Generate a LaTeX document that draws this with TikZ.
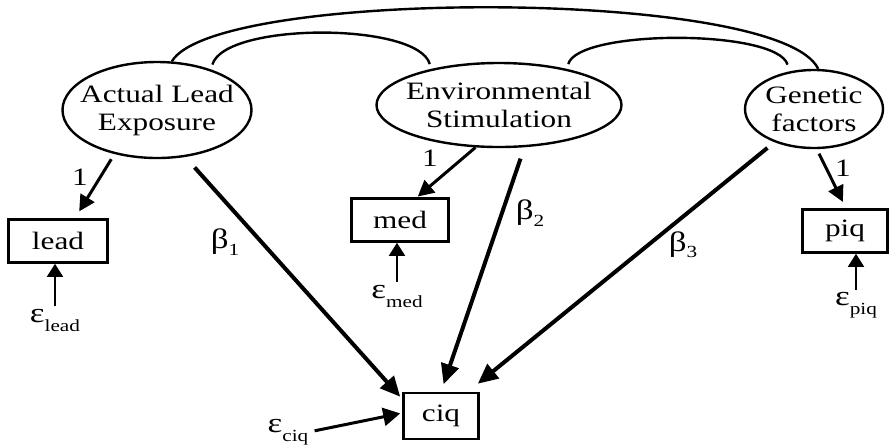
\documentclass[tikz,border=0pt]{standalone}
\usepackage{fontspec}
\setmainfont[FakeStretch=1.25]{Liberation Serif}
\usetikzlibrary{arrows.meta,shapes.geometric,calc}
\newcommand{\errsym}[1]{ε\raisebox{-0.7ex}{\fontsize{8.5}{9}\selectfont #1}}
\newcommand{\coefsym}[1]{β\raisebox{-0.5ex}{\fontsize{8.5}{9}\selectfont #1}}

\begin{document}
\begin{tikzpicture}[
  x=0.5pt, y=-0.5pt,
  font=\fontsize{12.5}{14}\selectfont,
  latent/.style={draw, ellipse, line width=1.2pt, inner sep=0pt},
  obs/.style={draw, rectangle, line width=1.3pt, inner sep=0pt, minimum height=21.5pt},
  lbl/.style={inner sep=0pt},
  greek/.style={inner sep=0pt, font=\fontsize{14}{15}\selectfont},
  regpath/.style={-{Triangle[length=10pt,width=9pt]}, line width=2pt},
  loadpath/.style={-{Triangle[length=8pt,width=8pt]}, line width=1.5pt},
  errpath/.style={-{Triangle[length=6.5pt,width=8pt]}, line width=0.9pt},
  covarc/.style={line width=1.2pt}
]
\useasboundingbox (0,0) rectangle (890,446);

\node[latent, minimum width=94.5pt, minimum height=48pt,
  label={[lbl, align=center]center:Actual Lead\\Exposure}] (lexp) at (157,110) {};
\node[latent, minimum width=122.5pt, minimum height=42pt,
  label={[lbl, align=center]center:Environmental\\Stimulation}] (envs) at (499,105) {};
\node[latent, minimum width=69pt, minimum height=39pt,
  label={[lbl, align=center]center:Genetic\\factors}] (gene) at (814,109) {};

\node[obs, minimum width=49.5pt] (lead) at (58,241) {lead};
\node[obs, minimum width=48.5pt] (med) at (400,220) {med};
\node[obs, minimum width=42.5pt] (piq) at (845,231) {piq};
\node[obs, minimum width=37.5pt, minimum height=23pt] (ciq) at (441,416) {ciq};

\node[greek] (elead) at (55,320) {\errsym{lead}};
\node[greek] (emed) at (397,296) {\errsym{med}};
\node[greek] (epiq) at (856,305) {\errsym{piq}};
\node[greek] (eciq) at (288,432) {\errsym{ciq}};

\node[greek] (b1) at (225,242) {\coefsym{1}};
\node[greek] (b2) at (530,213) {\coefsym{2}};
\node[greek] (b3) at (683,245) {\coefsym{3}};

\node[lbl] (one1) at (80,177) {1};
\node[lbl] (one2) at (430,158) {1};
\node[lbl] (one3) at (843,168) {1};

\draw[covarc] (lexp.73) .. controls (215,-12) and (780,-12) .. (gene.84);
\draw[covarc, shorten <=2.5pt, shorten >=2.5pt] (lexp.37) .. controls (225,22) and (418,22) .. (envs.152);
\draw[covarc, shorten <=2.5pt, shorten >=3.5pt] (envs.28) .. controls (578,29) and (777,29) .. (gene.123);

\draw[loadpath, shorten <=3pt, shorten >=4pt] (lexp.-134) -- ($(lead.north)+(17,0)$);
\draw[loadpath, shorten >=0.5pt] (envs.-119) -- ($(med.north)+(17,0)$);
\draw[loadpath, shorten <=2.5pt, shorten >=3.5pt] (gene.-86) -- ($(piq.north)+(1,0)$);

\draw[regpath, shorten <=7pt] (lexp.-59) -- ($(ciq.north west)+(-2,5)$);
\draw[regpath, shorten <=6pt, shorten >=4pt] (envs.-59) -- (ciq.north);
\draw[regpath, shorten <=4.5pt] (gene.-140) -- ($(ciq.north east)+(-2,-8)$);

\draw[errpath, shorten <=1pt] (elead.north) -- (elead.north |- lead.south);
\draw[errpath, shorten <=1pt] (emed.north) -- (emed.north |- med.south);
\draw[errpath, shorten <=1pt] (epiq.north) -- (epiq.north |- piq.south);
\draw[errpath, line width=1.5pt, -{Triangle[length=8.5pt,width=9pt]}, shorten <=3pt, shorten >=1pt]
  (eciq.east) -- ($(ciq.west)+(0,-3)$);
\end{tikzpicture}
\end{document}
